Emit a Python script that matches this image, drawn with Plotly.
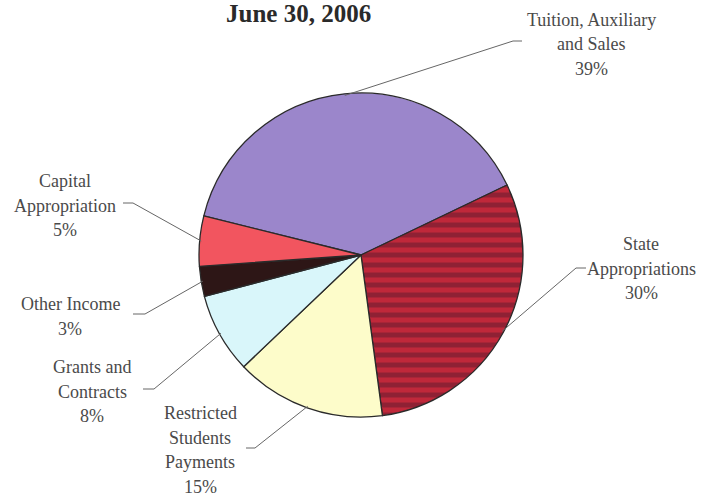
import math
import plotly.graph_objects as go

W, H = 701, 497

title = "June 30, 2006"
categories = ["Tuition, Auxiliary and Sales", "State Appropriations",
              "Restricted Students Payments", "Grants and Contracts",
              "Other Income", "Capital Appropriation"]
values = [39, 30, 15, 8, 3, 5]
label_lines = [["Tuition, Auxiliary", "and Sales"],
               ["State", "Appropriations"],
               ["Restricted", "Students", "Payments"],
               ["Grants and", "Contracts"],
               ["Other Income"],
               ["Capital", "Appropriation"]]
colors = ["#9b86cb", "#c0283a", "#fdfcca", "#d9f6fa", "#2d1616", "#f2555f"]

# layout (pixels in the page; body margin removed by post_script)
OFF = 0
CX, CY, R = 361, 255, 162
ROT = -76
label_pos = [(591, 20), (641, 244), (200, 413), (92, 367), (70, 304), (65, 181)]
elbows = [((513, 41), (522, 41)), ((576, 268), (586, 268)),
          ((255, 448), (246, 448)), ((154, 389), (143, 389)),
          ((145, 314), (133, 314)), ((133, 203), (123, 203))]
LINE_H = 24.5

def px(x, y):
    return (x - OFF) / W, 1 - (y - OFF) / H

d0 = px(CX - R, CY + R)
d1 = px(CX + R, CY - R)
fig = go.Figure(go.Pie(
    labels=categories, values=values, sort=False, direction="clockwise",
    rotation=ROT, textinfo="none", hoverinfo="label+percent",
    marker=dict(colors=colors, line=dict(color="#2a2a2a", width=1.3),
                pattern=dict(shape=["", "-", "", "", "", ""],
                             fgcolor="#5e1a2e", bgcolor="#c0283a",
                             size=10, solidity=0.5, fillmode="overlay")),
    domain=dict(x=[d0[0], d1[0]], y=[d0[1], d1[1]]),
    showlegend=False,
))

total = sum(values)
shapes, annotations = [], []
cum = 0
for i, v in enumerate(values):
    a = math.radians(ROT + 360 * (cum + v / 2) / total)
    cum += v
    tx, ty = CX + R * 0.99 * math.sin(a), CY - R * 0.99 * math.cos(a)
    (ex, ey), (fx, fy) = elbows[i]
    p1, p2, p3 = px(tx, ty), px(ex, ey), px(fx, fy)
    shapes.append(dict(type="path", xref="paper", yref="paper",
                       path=f"M {p1[0]} {p1[1]} L {p2[0]} {p2[1]} L {p3[0]} {p3[1]}",
                       line=dict(color="#666666", width=1)))
    lines = label_lines[i] + [f"{round(100 * v / total)}%"]
    lx, ly = label_pos[i]
    for k, t in enumerate(lines):
        x, y = px(lx, ly + k * LINE_H)
        annotations.append(dict(text=t, x=x, y=y, xref="paper", yref="paper",
                                showarrow=False, xanchor="center", yanchor="middle",
                                font=dict(family="Liberation Serif", size=18, color="#4a4a4a")))

x, y = px(298, 14)
annotations.append(dict(text=f"<b>{title}</b>", x=x, y=y, xref="paper", yref="paper",
                        showarrow=False, xanchor="center", yanchor="middle",
                        font=dict(family="Liberation Serif", size=25, color="#2a2a2a")))

fig.update_layout(width=W, height=H, margin=dict(l=0, r=0, t=0, b=0),
                  paper_bgcolor="white", plot_bgcolor="white",
                  shapes=shapes, annotations=annotations)
fig.write_html("out.html", config={"displayModeBar": False},
               post_script="document.body.style.margin='0';")
